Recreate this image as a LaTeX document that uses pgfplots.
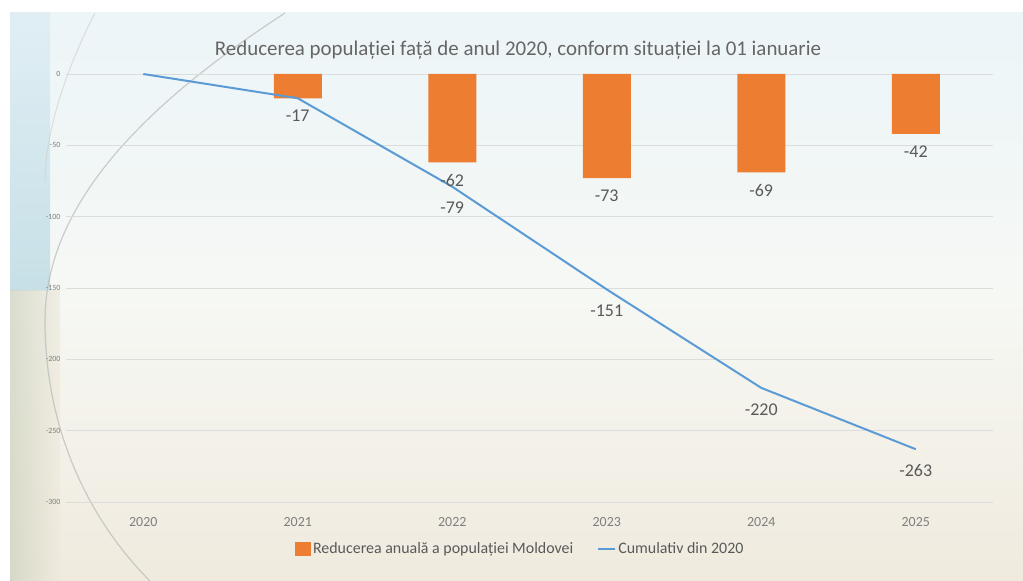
\documentclass[border=0pt]{standalone}
\usepackage{pgfplots}
\pgfplotsset{compat=1.18}
\usepackage{fontspec}
\setmainfont{Carlito}
\definecolor{barorange}{HTML}{ED7D31}
\definecolor{lineblue}{HTML}{5B9BD5}
\definecolor{txtgray}{HTML}{595959}
\definecolor{titlegray}{HTML}{666666}
\definecolor{tickgray}{HTML}{7F7F7F}
\definecolor{gridgray}{HTML}{DCDCDC}
\begin{document}
\begin{tikzpicture}
\path[use as bounding box] (0,0) rectangle (1023bp,581bp);
\fill[white] (0,0) rectangle (1023bp,581bp);
\shade[top color={rgb,255:red,236;green,245;blue,248}, bottom color={rgb,255:red,240;green,234;blue,222}, middle color={rgb,255:red,246;green,248;blue,244}] (10bp,0) rectangle (1023bp,568bp);
\shade[top color={rgb,255:red,215;green,234;blue,242}, bottom color={rgb,255:red,160;green,205;blue,220}, opacity=0.55] (10bp,290bp) rectangle (50bp,568bp);
\shade[left color={rgb,255:red,205;green,210;blue,190}, right color={rgb,255:red,240;green,234;blue,222}, opacity=0.7] (10bp,0bp) rectangle (60bp,290bp);
\draw[gray!55, line width=1.2bp, opacity=0.7] (285bp,568bp) .. controls (150bp,480bp) and (45bp,380bp) .. (45bp,260bp) .. controls (45bp,150bp) and (90bp,60bp) .. (150bp,0bp);
\draw[gray!35, line width=1bp, opacity=0.7] (95bp,568bp) .. controls (60bp,500bp) and (45bp,440bp) .. (45bp,400bp);
\begin{axis}[
  at={(66bp,79bp)}, anchor=south west,
  scale only axis, width=927bp, height=428bp,
  xmin=-0.5, xmax=5.5, ymin=-300, ymax=0,
  clip=false,
  xtick={0,1,2,3,4,5},
  xticklabels={2020,2021,2022,2023,2024,2025},
  ytick={-300,-250,-200,-150,-100,-50,0},
  ymajorgrids, grid style={color=gridgray, line width=0.8bp},
  axis line style={draw=none}, tick style={draw=none},
  /pgf/number format/assume math mode=true,
  xticklabel style={font=\fontsize{14}{16}\selectfont, text=tickgray, yshift=-12bp},
  yticklabel style={font=\fontsize{8}{10}\selectfont, text=tickgray, xshift=-2bp},
  legend style={at={(0.49,-0.11)}, anchor=center, draw=none, fill=none,
    font=\fontsize{16}{18}\selectfont, text=txtgray, legend columns=2,
    /tikz/every even column/.append style={column sep=22bp}},
  legend cell align=left,
]
\addplot[ybar, bar width=48bp, fill=barorange, draw=none, bar shift=0pt,
  nodes near coords, nodes near coords align={below},
  every node near coord/.append style={font=\fontsize{18}{20}\selectfont, text=txtgray, anchor=north, yshift=-8bp},
  legend image code/.code={\fill[barorange] (0bp,-7bp) rectangle (16bp,7bp);}]
  coordinates {(1,-17) (2,-62) (3,-73) (4,-69) (5,-42)};
\addlegendentry{Reducerea anuală a populației Moldovei}
\addplot[color=lineblue, line width=2bp, mark=none]
  coordinates {(0,0) (1,-17) (2,-79) (3,-151) (4,-220) (5,-263)};
\addlegendentry{Cumulativ din 2020}
\addplot[draw=none, mark=none, forget plot, nodes near coords,
  every node near coord/.append style={font=\fontsize{18}{20}\selectfont, text=txtgray, anchor=north, yshift=-12bp}]
  coordinates {(2,-79) (3,-151) (4,-220) (5,-263)};
\end{axis}
\node[font=\fontsize{21}{24}\selectfont, text=titlegray] at (518bp,531bp) {Reducerea populației față de anul 2020, conform situației la 01 ianuarie};
\end{tikzpicture}
\end{document}
